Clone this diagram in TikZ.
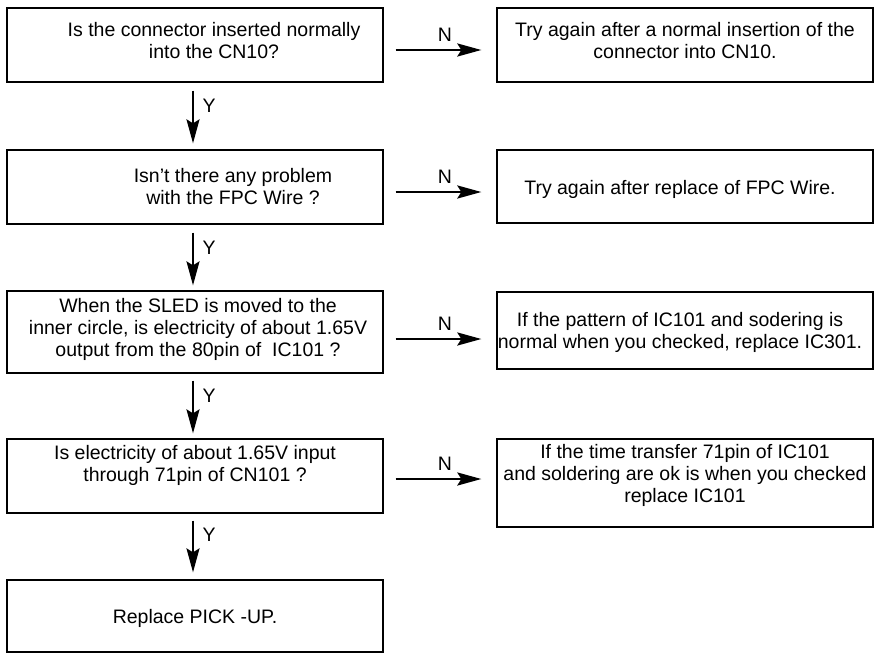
\documentclass[tikz,border=0pt]{standalone}
\usepackage{fontspec}
\setmainfont{Liberation Sans}
\usetikzlibrary{arrows.meta}
\lineskiplimit=-100pt
\begin{document}
\begin{tikzpicture}[x=1pt,y=-1pt,
  box/.style={draw, line width=1.3pt, inner sep=0pt, minimum width=376pt},
  txt/.style={align=center, inner sep=0pt, font=\fontsize{19.5}{22}\selectfont},
  harr/.style={line width=2.6pt, -{Stealth[length=24pt,width=13pt,inset=4pt]}},
  varr/.style={line width=2pt, -{Stealth[length=24pt,width=13pt,inset=4pt]}},
  lab/.style={font=\fontsize{19.5}{22}\selectfont, inner sep=0pt}]
\useasboundingbox (0,0) rectangle (877,653);
% boxes
\node[box, minimum height=74pt] (L1) at (195,45) {};
\node[box, minimum height=74pt] (R1) at (685,45) {};
\node[box, minimum height=74pt] (L2) at (195,187) {};
\node[box, minimum height=73pt] (R2) at (685,186.5) {};
\node[box, minimum height=82pt] (L3) at (195,332) {};
\node[box, minimum height=77pt] (R3) at (685,330.5) {};
\node[box, minimum height=74pt] (L4) at (195,476) {};
\node[box, minimum height=88pt] (R4) at (685,483) {};
\node[box, minimum height=72pt] (L5) at (195,616) {};
% texts
\node[txt] (t1) at (214,41) {Is the connector inserted normally\\into the CN10?};
\node[txt] (u1) at (685,41) {Try again after a normal insertion of the\\connector into CN10.};
\node[txt] (t2) at (233,187) {Isn’t there any problem\\with the FPC Wire ?};
\node[txt] (u2) at (680,189) {Try again after replace of FPC Wire.};
\node[txt] (t3) at (198,329.9) {When the SLED is moved to the\\inner circle, is electricity of about 1.65V\\output from the 80pin of\ \ IC101 ?};
\node[txt] (u3) at (680,332.9) {If the pattern of IC101 and sodering is\\normal when you checked, replace IC301.};
\node[txt] (t4) at (195,465.9) {Is electricity of about 1.65V input\\through 71pin of CN101 ?};
\node[txt] (u4) at (685,475.9) {If the time transfer 71pin of IC101\\and soldering are ok is when you checked\\replace IC101};
\node[txt] (t5) at (195,618.9) {Replace PICK -UP.};
% N arrows
\draw[harr] ([xshift=12pt,yshift=-5pt]L1.east) -- node[lab, pos=0.575, above=7pt] (n1) {N} ([xshift=-15pt,yshift=-5pt]R1.west);
\draw[harr] ([xshift=12pt,yshift=-5pt]L2.east) -- node[lab, pos=0.575, above=7pt] (n2) {N} ([xshift=-15pt,yshift=-5.5pt]R2.west);
\draw[harr] ([xshift=12pt,yshift=-7pt]L3.east) -- node[lab, pos=0.575, above=7pt] (n3) {N} ([xshift=-15pt,yshift=-8.5pt]R3.west);
\draw[harr] ([xshift=12pt,yshift=-3pt]L4.east) -- node[lab, pos=0.575, above=7pt] (n4) {N} ([xshift=-15pt,yshift=4pt]R4.west);
% Y arrows
\draw[varr] ([xshift=-2pt,yshift=-8pt]L1.south) -- node[lab, pos=0.28, right=8.5pt] (y1) {Y} ([xshift=-2pt,yshift=6pt]L2.north);
\draw[varr] ([xshift=-2pt,yshift=-8pt]L2.south) -- node[lab, pos=0.28, right=8.5pt] (y2) {Y} ([xshift=-2pt,yshift=5pt]L3.north);
\draw[varr] ([xshift=-2pt,yshift=-7pt]L3.south) -- node[lab, pos=0.28, right=8.5pt] (y3) {Y} ([xshift=-2pt,yshift=5pt]L4.north);
\draw[varr] ([xshift=-2pt,yshift=-7pt]L4.south) -- node[lab, pos=0.28, right=8.5pt] (y4) {Y} ([xshift=-2pt,yshift=7pt]L5.north);
\end{tikzpicture}
\end{document}
